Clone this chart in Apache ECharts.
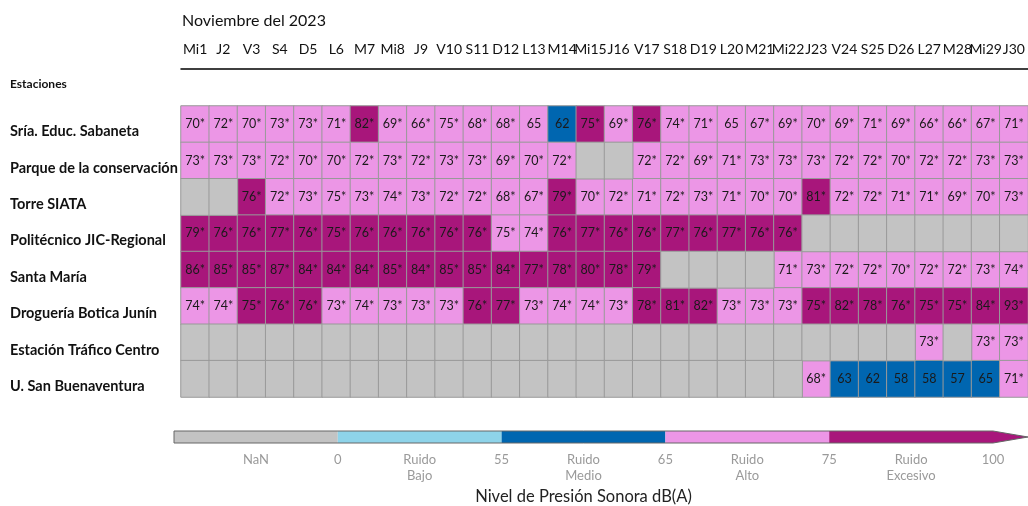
<!DOCTYPE html>
<html>
<head>
<meta charset="utf-8">
<script src="https://cdn.jsdelivr.net/npm/echarts@6/dist/echarts.min.js"></script>
<style>
  html, body { margin: 0; padding: 0; background: #fff; }
  #main { width: 1028px; height: 506px; }
</style>
</head>
<body>
<div id="main"></div>
<script>
// dias del mes
const dias = ['Mi1', 'J2', 'V3', 'S4', 'D5', 'L6', 'M7', 'Mi8', 'J9', 'V10', 'S11', 'D12', 'L13', 'M14', 'Mi15',
  'J16', 'V17', 'S18', 'D19', 'L20', 'M21', 'Mi22', 'J23', 'V24', 'S25', 'D26', 'L27', 'M28', 'Mi29', 'J30'];
const estaciones = ['Sría. Educ. Sabaneta', 'Parque de la conservación', 'Torre SIATA', 'Politécnico JIC-Regional',
  'Santa María', 'Droguería Botica Junín', 'Estación Tráfico Centro', 'U. San Buenaventura'];

// niveles diarios dB(A), null = sin dato
const sabaneta = [70, 72, 70, 73, 73, 71, 82, 69, 66, 74.8, 68, 68, 65.2, 62, 75.2, 69, 76, 74, 71, 65.2, 67, 69, 70, 69, 71, 69, 66, 66, 67, 71];
const parque = [73, 73, 73, 72, 70, 70, 72, 73, 72, 73, 73, 69, 70, 72, null, null, 72, 72, 69, 71, 73, 73, 73, 72, 72, 70, 72, 72, 73, 73];
const torreSiata = [null, null, 76, 72, 73, 74.8, 73, 74, 73, 72, 72, 68, 67, 79, 70, 72, 71, 72, 73, 71, 70, 70, 81, 72, 72, 71, 71, 69, 70, 73];
const politecnico = [79, 76, 76, 77, 76, 75.2, 76, 76, 76, 76, 76, 74.8, 74, 76, 77, 76, 76, 77, 76, 77, 76, 76, null, null, null, null, null, null, null, null];
const santaMaria = [86, 85, 85, 87, 84, 84, 84, 85, 84, 85, 85, 84, 77, 78, 80, 78, 79, null, null, null, null, 71, 73, 72, 72, 70, 72, 72, 73, 74];
const drogueria = [74, 74, 75.2, 76, 76, 73, 74, 73, 73, 73, 76, 77, 73, 74, 74, 73, 78, 81, 82, 73, 73, 73, 75.2, 82, 78, 76, 75.2, 75.2, 84, 93];
const traficoCentro = [null, null, null, null, null, null, null, null, null, null, null, null, null, null, null, null, null, null, null, null, null, null, null, null, null, null, 73, null, 73, 73];
const sanBuenaventura = [null, null, null, null, null, null, null, null, null, null, null, null, null, null, null, null, null, null, null, null, null, null, 68, 63, 62, 58, 58, 57, 64.8, 71];
const filas = [sabaneta, parque, torreSiata, politecnico, santaMaria, drogueria, traficoCentro, sanBuenaventura];

// escala de colores
const cortes = [0, 55, 65, 75];
const coloresNivel = ['#8ed3e9', '#0066b0', '#ec96e6', '#a8167b'];
const colorNaN = '#c3c3c3';
const etiquetasBarra = ['', 'NaN', '0', 'Ruido\nBajo', '55', 'Ruido\nMedio', '65', 'Ruido\nAlto', '75', 'Ruido\nExcesivo', '100'];
const coloresBarra = [colorNaN].concat(coloresNivel);

const fuente = 'Lato';

const datos = [];
const datosNaN = [];
filas.forEach((fila, j) => {
  fila.forEach((v, i) => {
    if (v === null) datosNaN.push([i, j, 0]);
    else datos.push([i, j, v]);
  });
});
const segmentos = coloresBarra.map((c, i) => [i * 2, i * 2 + 2]);

const myChart = echarts.init(document.getElementById('main'));
const options = {
  animation: false,
  textStyle: { fontFamily: fuente },
  title: [
    { text: 'Noviembre del 2023', left: 177, top: 8, textStyle: { fontFamily: fuente, fontSize: 16, fontWeight: 'normal', color: '#111' } },
    { text: 'Estaciones', left: 5, top: 73, textStyle: { fontFamily: fuente, fontSize: 12, fontWeight: 'bold', color: '#111' } },
  ],
  grid: [
    { left: 181, top: 106, width: 849, height: 291 },
    { left: 174, top: 431, width: 819, height: 20 },
  ],
  xAxis: [
    {
      type: 'category',
      data: dias,
      position: 'top',
      offset: 37,
      gridIndex: 0,
      axisTick: { show: false },
      axisLine: { show: true, lineStyle: { color: '#000', width: 1.5 } },
      axisLabel: { interval: 0, margin: 13, fontSize: 14, color: '#111', fontFamily: fuente },
      splitLine: { show: false },
    },
    {
      type: 'value',
      gridIndex: 1,
      min: 0,
      max: 10,
      interval: 1,
      axisLine: { show: false },
      axisTick: { show: false },
      splitLine: { show: false },
      axisLabel: {
        margin: 9,
        fontSize: 13,
        lineHeight: 16,
        color: '#9a9a9a',
        fontFamily: fuente,
        formatter: (v) => etiquetasBarra[v],
      },
      name: 'Nivel de Presión Sonora dB(A)',
      nameLocation: 'middle',
      nameGap: 45,
      nameTextStyle: { fontSize: 16.5, color: '#222', fontFamily: fuente },
    },
  ],
  yAxis: [
    {
      type: 'category',
      data: estaciones,
      inverse: true,
      gridIndex: 0,
      axisLine: { show: false },
      axisTick: { show: false },
      axisLabel: {
        align: 'left',
        verticalAlign: 'top',
        margin: 171,
        fontSize: 14.5,
        fontWeight: 'bold',
        color: '#111',
        fontFamily: fuente,
      },
    },
    { type: 'value', gridIndex: 1, min: 0, max: 1, show: false },
  ],
  visualMap: {
    type: 'piecewise',
    show: false,
    seriesIndex: 0,
    dimension: 2,
    pieces: [
      { gte: cortes[0], lt: cortes[1], color: coloresNivel[0] },
      { gte: cortes[1], lt: cortes[2], color: coloresNivel[1] },
      { gte: cortes[2], lt: cortes[3], color: coloresNivel[2] },
      { gte: cortes[3], color: coloresNivel[3] },
    ],
  },
  series: [
    {
      type: 'heatmap',
      data: datos,
      xAxisIndex: 0,
      yAxisIndex: 0,
      itemStyle: { borderColor: '#999', borderWidth: 1 },
      label: {
        show: true,
        fontSize: 12.5,
        color: '#1a1a1a',
        fontFamily: fuente,
        formatter: (p) => {
          const r = Math.round(p.value[2]);
          return r > 65 ? r + '*' : '' + r;
        },
      },
    },
    {
      type: 'heatmap',
      data: datosNaN,
      xAxisIndex: 0,
      yAxisIndex: 0,
      itemStyle: { color: colorNaN, borderColor: '#999', borderWidth: 1 },
      label: { show: false },
    },
    {
      // barra de colores
      type: 'custom',
      xAxisIndex: 1,
      yAxisIndex: 1,
      data: segmentos,
      clip: false,
      renderItem: (params, api) => {
        const p0 = api.coord([api.value(0), 1]);
        const p1 = api.coord([api.value(1), 0]);
        const color = coloresBarra[params.dataIndex];
        const children = [{
          type: 'rect',
          shape: { x: p0[0], y: p0[1], width: p1[0] - p0[0], height: p1[1] - p0[1] },
          style: { fill: color },
        }];
        if (params.dataIndex === segmentos.length - 1) {
          const inicio = api.coord([0, 1]);
          const punta = [p1[0] + 35, (p0[1] + p1[1]) / 2];
          children.push({
            type: 'polygon',
            shape: { points: [[p1[0], p0[1]], punta, [p1[0], p1[1]]] },
            style: { fill: color },
          });
          children.push({
            type: 'polyline',
            shape: { points: [[inicio[0], p0[1]], [p1[0], p0[1]], punta, [p1[0], p1[1]], [inicio[0], p1[1]], [inicio[0], p0[1]]] },
            style: { fill: null, stroke: '#666', lineWidth: 1 },
          });
        }
        return { type: 'group', children };
      },
    },
  ],
};
myChart.setOption(options);
window.onresize = function () {
  myChart.resize();
};
</script>
</body>
</html>
